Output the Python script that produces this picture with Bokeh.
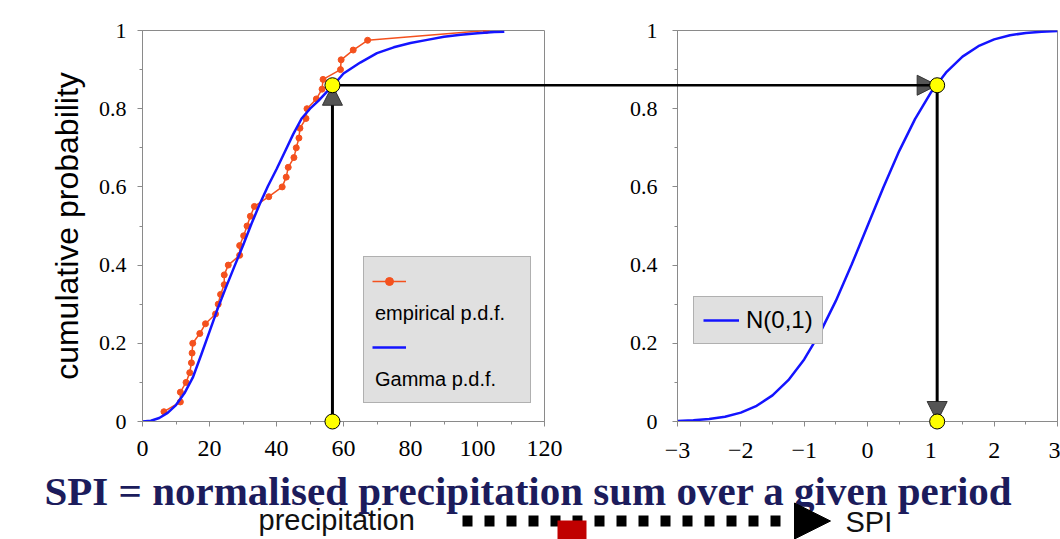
from bokeh.plotting import figure
from bokeh.layouts import column, row
from bokeh.models import (Range1d, FixedTicker, NumeralTickFormatter, CustomJSTickFormatter,
                          Legend, LegendItem, Arrow, NormalHead)
from bokeh.embed import file_html
from bokeh.resources import INLINE
from bokeh.core.properties import value

# ---------------- data ----------------
emp_precip = [6.4, 11.3, 11.3, 13.0, 14.1, 14.6, 14.8, 15.0, 17.1, 18.8,
              21.8, 22.6, 23.3, 24.4, 24.4, 25.6, 29.0, 29.0, 30.2, 31.2,
              32.2, 33.4, 37.7, 41.7, 42.9, 43.5, 45.2, 45.9, 46.7, 47.0,
              48.8, 49.1, 51.9, 53.6, 53.9, 59.1, 59.3, 62.9, 67.2, 102.6]
emp_prob = [0.025, 0.05, 0.075, 0.10, 0.125, 0.15, 0.175, 0.20, 0.225, 0.25,
            0.275, 0.30, 0.325, 0.35, 0.375, 0.40, 0.425, 0.45, 0.475, 0.50,
            0.525, 0.55, 0.575, 0.60, 0.625, 0.65, 0.675, 0.70, 0.725, 0.75,
            0.775, 0.80, 0.825, 0.85, 0.875, 0.90, 0.925, 0.95, 0.975, 1.0]

gamma_precip = [0, 2.5, 5, 7.5, 10, 12.5, 15, 17.5, 20, 22.5, 25, 27.5, 30, 32.5,
                35, 37.5, 40, 42.5, 45, 47.5, 50, 52.5, 55, 57.5, 60, 65, 70, 75,
                80, 85, 90, 95, 100, 105, 108]
gamma_prob = [0.0, 0.002, 0.009, 0.022, 0.042, 0.072, 0.112, 0.170, 0.230, 0.290,
              0.345, 0.398, 0.450, 0.505, 0.556, 0.603, 0.645, 0.690, 0.735, 0.775,
              0.800, 0.820, 0.843, 0.865, 0.890, 0.918, 0.942, 0.957, 0.968, 0.976,
              0.984, 0.989, 0.993, 0.996, 0.997]

spi_z = [-3, -2.75, -2.5, -2.25, -2, -1.75, -1.5, -1.25, -1, -0.75, -0.5, -0.25, 0,
         0.25, 0.5, 0.75, 1, 1.25, 1.5, 1.75, 2, 2.25, 2.5, 2.75, 3]
spi_prob = [0.0013, 0.003, 0.0062, 0.0122, 0.0228, 0.0401, 0.0668, 0.1056, 0.1587,
            0.2266, 0.3085, 0.4013, 0.5, 0.5987, 0.6915, 0.7734, 0.8413, 0.8944,
            0.9332, 0.9599, 0.9772, 0.9878, 0.9938, 0.997, 0.9987]

precip_value = 56.7
prob_value = 0.86
spi_value = 1.1

precip_ticks = [0, 20, 40, 60, 80, 100, 120]
precip_minor = [0, 10, 20, 30, 40, 50, 60, 70, 80, 90, 100, 110, 120]
spi_ticks = [-3, -2, -1, 0, 1, 2, 3]
spi_minor = [-3, -2.5, -2, -1.5, -1, -0.5, 0, 0.5, 1, 1.5, 2, 2.5, 3]
prob_ticks = [0, 0.2, 0.4, 0.6, 0.8, 1]
prob_minor = [0, 0.1, 0.2, 0.3, 0.4, 0.5, 0.6, 0.7, 0.8, 0.9, 1]

title_text = "SPI = normalised precipitation sum over a given period"

# ---------------- style ----------------
GREY = "#8a8a8a"
ORANGE = "#f4511e"
BLUE = "#1414ff"
LEG_FILL = "#e0e0e0"
HEAD_FILL = "#555555"
SERIF = "Liberation Serif"
SANS = "Liberation Sans"
ROW_H = 468


def style(p, y_standoff, x_standoff):
    p.outline_line_color = GREY
    p.outline_line_width = 1
    p.xgrid.visible = False
    p.ygrid.visible = False
    p.background_fill_color = "white"
    p.border_fill_color = "white"
    for ax in p.axis:
        ax.axis_line_color = GREY
        ax.major_tick_line_color = GREY
        ax.minor_tick_line_color = GREY
        ax.major_tick_in = 0
        ax.major_tick_out = 5
        ax.minor_tick_in = 0
        ax.minor_tick_out = 3
        ax.major_label_text_font = SERIF
        ax.major_label_text_color = "black"
    p.yaxis.major_label_text_font_size = "22px"
    p.xaxis.major_label_text_font_size = "24px"
    p.yaxis.major_label_standoff = y_standoff
    p.xaxis.major_label_standoff = x_standoff
    p.yaxis.ticker = FixedTicker(ticks=prob_ticks, minor_ticks=prob_minor)
    p.yaxis.formatter = NumeralTickFormatter(format="0.[0]")


def head():
    return NormalHead(size=20, fill_color=HEAD_FILL, line_color="#333333", line_width=1)


# ---------------- left: precipitation CDF ----------------
left = figure(width=600, height=ROW_H, x_range=Range1d(0, 120), y_range=Range1d(0, 1),
              output_backend="svg", toolbar_location=None, title=None,
              min_border_left=142, min_border_right=56, min_border_top=30,
              min_border_bottom=ROW_H - 421)
style(left, 11, 14)
left.xaxis.ticker = FixedTicker(ticks=precip_ticks, minor_ticks=precip_minor)
left.yaxis.axis_label = "cumulative probability"
left.yaxis.axis_label_text_font = SANS
left.yaxis.axis_label_text_font_size = "32px"
left.yaxis.axis_label_text_font_style = "normal"
left.yaxis.axis_label_text_color = "black"
left.yaxis.axis_label_standoff = 11

emp_line = left.line(emp_precip, emp_prob, line_color=ORANGE, line_width=1.5)
emp_pts = left.scatter(emp_precip, emp_prob, size=6, fill_color=ORANGE, line_color=ORANGE)
gam_line = left.line(gamma_precip, gamma_prob, line_color=BLUE, line_width=2.5)
blank = left.line([], [], line_alpha=0)

# horizontal connector leaving the left plot towards the right plot (drawn unclipped)
left.segment(x0=[precip_value], y0=[prob_value], x1=[precip_value + 2 * 120],
             y1=[prob_value], line_color="black", line_width=2.5, level="overlay")
# vertical arrow up from the precipitation value
left.add_layout(Arrow(x_start=precip_value, y_start=0, x_end=precip_value, y_end=prob_value,
                      line_color="black", line_width=3, end=head()))
left.scatter([precip_value, precip_value], [0, prob_value], size=15,
             fill_color="#ffff00", line_color="black", line_width=1, level="overlay")

# legend: labels sit on their own rows under the glyph samples
leg_kw = dict(margin=0, padding=11, spacing=9,
              glyph_height=20, label_height=24, label_standoff=0,
              label_text_font=SANS, label_text_font_size="20px", label_text_color="black")
leg_text = Legend(items=[LegendItem(label=" ", renderers=[blank]),
                         LegendItem(label="empirical p.d.f.", renderers=[emp_line]),
                         LegendItem(label=" ", renderers=[blank]),
                         LegendItem(label="Gamma p.d.f.", renderers=[gam_line])],
                  location=(221, 18), glyph_width=0, label_width=144,
                  background_fill_color=LEG_FILL, background_fill_alpha=1,
                  border_line_color="#808080", border_line_width=1, **leg_kw)
# borderless legend: no padding is applied, so it is placed 11 px further in
leg_glyph = Legend(items=[LegendItem(label=" ", renderers=[emp_line, emp_pts]),
                          LegendItem(label=" ", renderers=[blank]),
                          LegendItem(label=" ", renderers=[gam_line]),
                          LegendItem(label=" ", renderers=[blank])],
                   location=(230, 29), glyph_width=34, label_width=0,
                   background_fill_alpha=0, border_line_color=None, **leg_kw)
left.add_layout(leg_text)
left.add_layout(leg_glyph)

# ---------------- right: standard normal CDF ----------------
right = figure(width=460, height=ROW_H, x_range=Range1d(-3, 3), y_range=Range1d(0, 1),
               output_backend="svg", toolbar_location=None, title=None,
               min_border_left=77, min_border_right=3, min_border_top=30,
               min_border_bottom=ROW_H - 421)
style(right, 15, 16)
right.xaxis.ticker = FixedTicker(ticks=spi_ticks, minor_ticks=spi_minor)
right.xaxis.formatter = CustomJSTickFormatter(
    code="return tick < 0 ? '\\u2212' + Math.abs(tick) : String(tick);")

norm_line = right.line(spi_z, spi_prob, line_color=BLUE, line_width=2.5)

# horizontal connector arriving from the left plot (drawn unclipped) + its head
right.segment(x0=[-3 - 12], y0=[prob_value], x1=[spi_value], y1=[prob_value],
              line_color="black", line_width=2.5, level="overlay")
right.add_layout(Arrow(x_start=spi_value - 1, y_start=prob_value, x_end=spi_value,
                       y_end=prob_value, line_alpha=0, end=head()))
right.add_layout(Arrow(x_start=spi_value, y_start=prob_value, x_end=spi_value, y_end=0,
                       line_color="black", line_width=3, end=head()))
right.scatter([spi_value, spi_value], [prob_value, 0], size=15,
              fill_color="#ffff00", line_color="black", line_width=1, level="overlay")

leg_right = Legend(items=[LegendItem(label="N(0,1)", renderers=[norm_line])],
                   location=(16, 77), margin=0, padding=9,
                   glyph_width=36, glyph_height=26, label_standoff=7,
                   background_fill_color=LEG_FILL, background_fill_alpha=1,
                   border_line_color="#808080", border_line_width=1,
                   label_text_font=SANS, label_text_font_size="24px",
                   label_text_color="black")
right.add_layout(leg_right)

# ---------------- bottom strip: caption ----------------
bottom = figure(width=1060, height=539 - ROW_H, x_range=Range1d(0, 1060),
                y_range=Range1d(539, ROW_H),
                output_backend="svg", toolbar_location=None, title=None,
                x_axis_type=None, y_axis_type=None, min_border=0)
bottom.xgrid.visible = False
bottom.ygrid.visible = False
bottom.outline_line_color = None
bottom.background_fill_color = "white"
bottom.border_fill_color = "white"

bottom.line([462, 792], [520.5, 520.5], line_color="black", line_width=11, line_dash="10 12")
bottom.add_layout(Arrow(x_start=780, y_start=520.5, x_end=830, y_end=520.5, line_alpha=0,
                        end=NormalHead(size=36, fill_color="black", line_color="black",
                                       line_width=1)))
bottom.quad(left=[557], right=[586], top=[520], bottom=[545], fill_color="#c00000",
            line_color=None)
bottom.text(x=[258], y=[519], text=["precipitation"], text_font=value(SANS),
            text_font_size="29px", text_color="#111111", text_baseline="alphabetic")
bottom.text(x=[845], y=[521], text=["SPI"], text_font=value(SANS),
            text_font_size="29px", text_color="#111111", text_baseline="alphabetic")
bottom.text(x=[44], y=[490], text=[title_text], text_font=value(SERIF),
            text_font_style="bold", text_font_size="41px", text_color="#1c1c5c",
            text_baseline="alphabetic")

layout = column(row(left, right), bottom)

open("out.html", "w").write(file_html(layout, INLINE))
